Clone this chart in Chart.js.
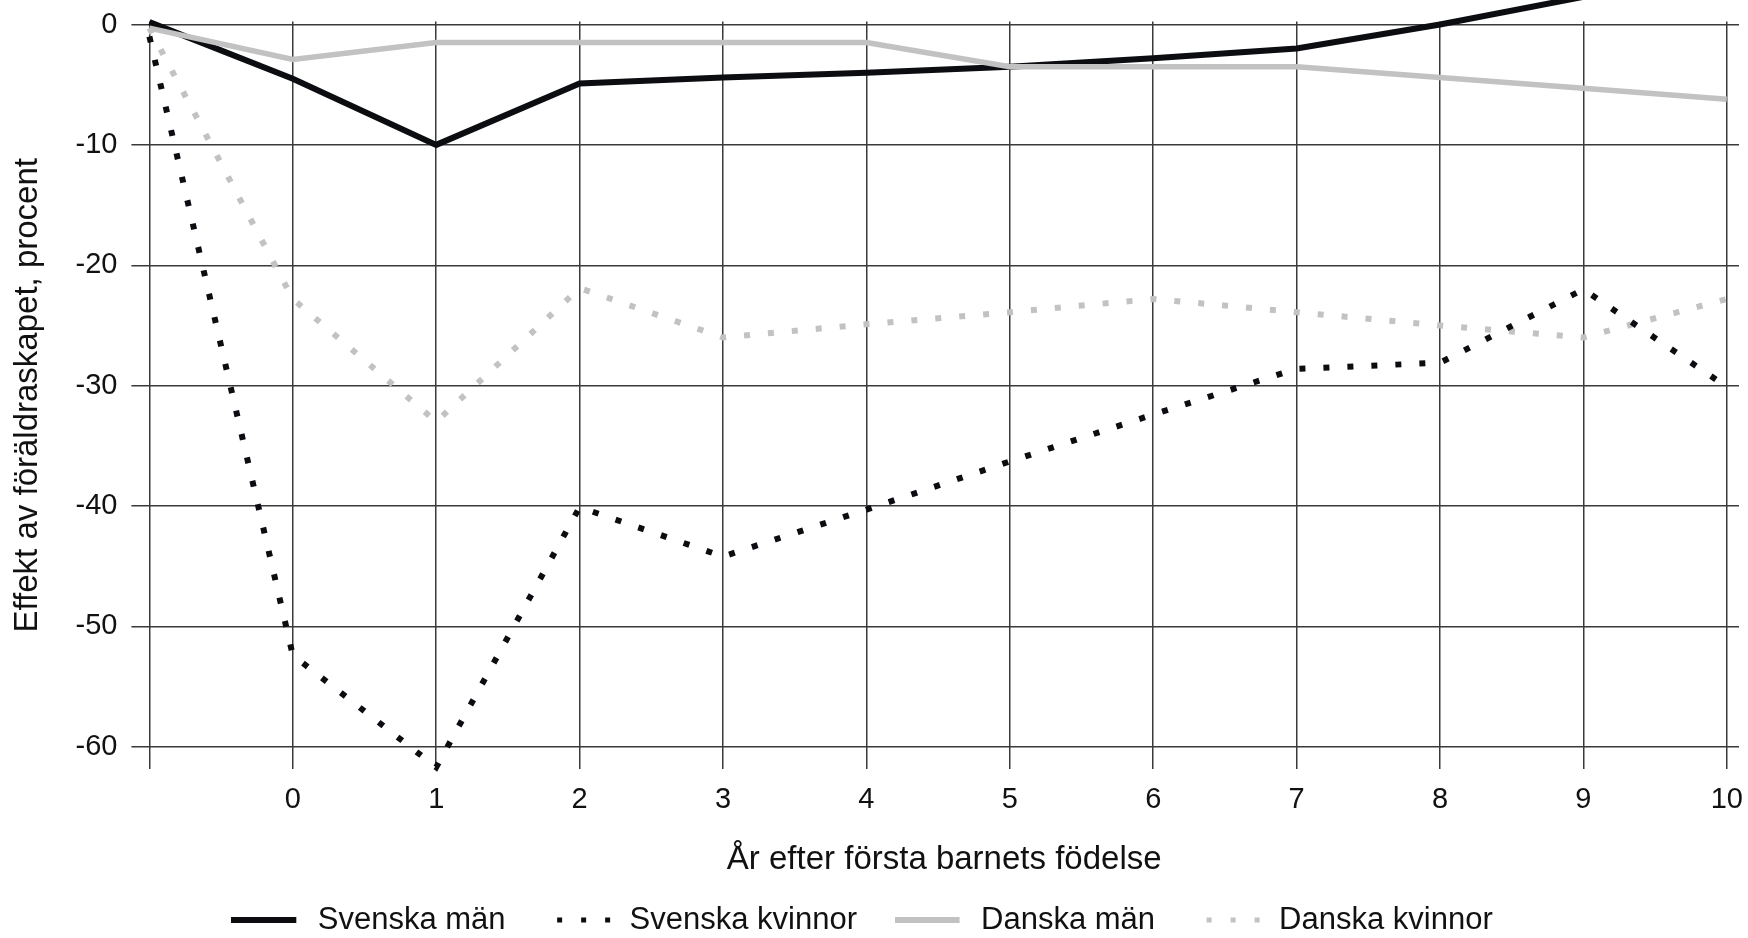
<!DOCTYPE html>
<html>
<head>
<meta charset="utf-8">
<script src="https://cdn.jsdelivr.net/npm/chart.js@4"></script>
<style>
  html, body { margin: 0; padding: 0; background: #ffffff; }
  #wrap { width: 1748px; height: 938px; }
</style>
</head>
<body>
<div id="wrap"><canvas id="c" width="1748" height="938"></canvas></div>
<script>
// ---- data ----
const years = [-1, 0, 1, 2, 3, 4, 5, 6, 7, 8, 9, 10];
const xTickValues = [-1, 0, 1, 2, 3, 4, 5, 6, 7, 8, 9, 10];
const yTickValues = [0, -10, -20, -30, -40, -50, -60];
const seriesNames = ['Svenska män', 'Svenska kvinnor', 'Danska män', 'Danska kvinnor'];
const svenskaMan     = [0.2, -4.5, -10.0, -4.9, -4.4, -4.0, -3.5, -2.8, -2.0, 0.0, 2.3, 4.5];
const svenskaKvinnor = [-1.0, -52.4, -61.7, -40.1, -44.2, -40.3, -36.3, -32.4, -28.6, -28.1, -22.0, -30.1];
const danskaMan      = [-0.3, -2.9, -1.5, -1.5, -1.5, -1.5, -3.5, -3.5, -3.5, -4.4, -5.3, -6.2];
const danskaKvinnor  = [-0.3, -22.8, -33.0, -21.9, -26.0, -24.9, -23.9, -22.8, -23.9, -25.0, -26.0, -22.8];
const xTitle = 'År efter första barnets födelse';
const yTitle = 'Effekt av föräldraskapet, procent';

const BLACK = '#0b0d10';
const GRAY = '#c2c2c2';
const FONT = "'Liberation Sans', Arial, sans-serif";
const LEGEND_BOX = 71;

// legend sample glyphs (solid bar or three square dots)
function legendGlyph(kind, color, thickness) {
  const c = document.createElement('canvas');
  c.width = LEGEND_BOX; c.height = 12;
  const g = c.getContext('2d');
  g.fillStyle = color;
  if (kind === 'solid') {
    g.fillRect(0, (12 - thickness) / 2, 65, thickness);
  } else {
    [16.5, 40.5, 64.5].forEach(x => g.fillRect(x - 2.5, 3.5, 5, 5));
  }
  return c;
}

function pts(arr) { return years.map((x, i) => ({ x: x, y: arr[i] })); }

const ctx = document.getElementById('c').getContext('2d');
new Chart(ctx, {
  type: 'line',
  data: {
    datasets: [
      { label: seriesNames[0], data: pts(svenskaMan), borderColor: BLACK, backgroundColor: BLACK,
        borderWidth: 6, pointRadius: 0, tension: 0, order: 2, clip: false,
        pointStyle: legendGlyph('solid', BLACK, 6) },
      { label: seriesNames[1], data: pts(svenskaKvinnor), borderColor: BLACK, backgroundColor: BLACK,
        borderWidth: 6, borderDash: [6, 18], borderCapStyle: 'butt', pointRadius: 0, tension: 0, order: 3, clip: false,
        pointStyle: legendGlyph('dots', BLACK) },
      { label: seriesNames[2], data: pts(danskaMan), borderColor: GRAY, backgroundColor: GRAY,
        borderWidth: 5.5, pointRadius: 0, tension: 0, order: 1, clip: false,
        pointStyle: legendGlyph('solid', GRAY, 6) },
      { label: seriesNames[3], data: pts(danskaKvinnor), borderColor: GRAY, backgroundColor: GRAY,
        borderWidth: 6, borderDash: [6, 18], borderCapStyle: 'butt', pointRadius: 0, tension: 0, order: 4, clip: false,
        pointStyle: legendGlyph('dots', GRAY) }
    ]
  },
  options: {
    responsive: false,
    animation: false,
    devicePixelRatio: 1,
    layout: { padding: { left: -15, right: 9, top: 21.5, bottom: -7.5 } },
    plugins: {
      tooltip: { enabled: false },
      legend: {
        position: 'bottom',
        labels: {
          usePointStyle: true,
          pointStyleWidth: LEGEND_BOX,
          padding: 37.5,
          color: '#111',
          font: { family: FONT, size: 31 },
          sort: (a, b) => a.datasetIndex - b.datasetIndex
        }
      }
    },
    scales: {
      x: {
        type: 'linear',
        min: -1,
        max: 10.085,
        border: { display: false },
        grid: { color: '#3a3a3a', lineWidth: 1.5, drawTicks: false },
        afterBuildTicks: (s) => { s.ticks = xTickValues.map(v => ({ value: v })); },
        afterFit: (s) => { s.height = 98; s.paddingLeft = 0; s.paddingRight = 0; },
        ticks: {
          autoSkip: false, maxRotation: 0, padding: 14,
          color: '#111', font: { family: FONT, size: 29 },
          callback: (v) => (v === -1 ? '' : String(v))
        },
        title: {
          display: true, text: xTitle, color: '#111',
          font: { family: FONT, size: 33 },
          padding: { top: 0, bottom: -12.8 }
        }
      },
      y: {
        type: 'linear',
        min: -61.85,
        max: 0.25,
        border: { display: false },
        grid: { color: '#3a3a3a', lineWidth: 1.5, drawTicks: true, tickLength: 18 },
        afterBuildTicks: (s) => { s.ticks = yTickValues.map(v => ({ value: v })); },
        afterFit: (s) => { s.width = 164.4; s.paddingTop = 0; s.paddingBottom = 0; },
        ticks: {
          padding: 14, color: '#111', font: { family: FONT, size: 29 }
        },
        title: {
          display: true, text: yTitle, color: '#111',
          font: { family: FONT, size: 33 },
          padding: { top: 23.5, bottom: 0 }
        }
      }
    }
  }
});
</script>
</body>
</html>
